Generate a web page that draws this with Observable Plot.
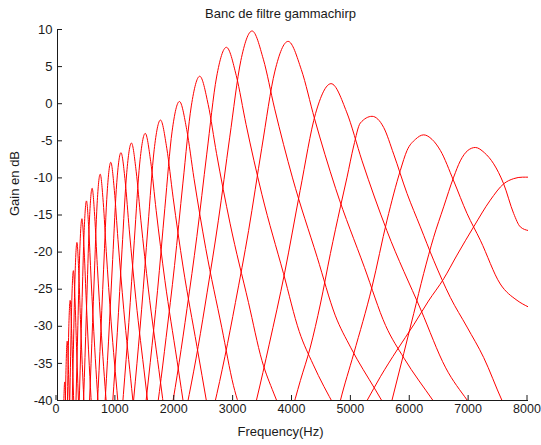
<!DOCTYPE html>
<html>
<head>
<meta charset="utf-8">
<script src="https://cdn.jsdelivr.net/npm/d3@7"></script>
<script src="https://cdn.jsdelivr.net/npm/@observablehq/plot@0.6"></script>
<style>
  html, body { margin: 0; padding: 0; background: #fff; }
</style>
</head>
<body>
<div id="chart"></div>
<script>
const titleText = "Banc de filtre gammachirp";
const xLabel = "Frequency(Hz)";
const yLabel = "Gain en dB";
const xTicks = [0, 1000, 2000, 3000, 4000, 5000, 6000, 7000, 8000];
const yTicks = [10, 5, 0, -5, -10, -15, -20, -25, -30, -35, -40];

// Each filter: [frequency (Hz), gain (dB)] points
const filter01 = [[5150,-41.5],[5258,-40],[5484,-36.8],[5767,-33.2],[6050,-29.8],[6300,-26.6],[6559,-23.6],[6786,-20.4],[7068,-16.6],[7351,-13.0],[7578,-10.8],[7748,-10.1],[7900,-9.9],[8000,-9.9]];
const filter02 = [[5600,-42.5],[5680,-40],[5880,-33.7],[6050,-28.3],[6219,-22.9],[6389,-18.0],[6559,-13.9],[6729,-9.9],[6842,-7.7],[6970,-6.3],[7097,-5.9],[7250,-6.6],[7408,-8.1],[7578,-10.8],[7748,-14.8],[7861,-16.6],[8000,-17.1]];
const filter03 = [[4700,-43.5],[4805,-40],[5031,-33.7],[5342,-24.7],[5597,-15.7],[5823,-9.0],[5937,-6.3],[6080,-4.8],[6220,-4.2],[6360,-4.8],[6503,-6.3],[6729,-10.4],[6956,-14.8],[7182,-18.4],[7521,-24.3],[7805,-26.5],[8000,-27.4]];
const filter04 = [[3950,-42.3],[4126,-37.3],[4295,-32.8],[4465,-27.0],[4635,-20.2],[4805,-13.9],[4918,-9.9],[5031,-5.7],[5144,-2.6],[5343,-1.7],[5540,-3.2],[5710,-6.8],[5937,-12.1],[6163,-16.6],[6389,-21.1],[6672,-26.1],[6956,-30.1],[7238,-34.2],[7550,-40],[7700,-42.5]];
const filter05 = [[3173,-46.3],[3384,-39.8],[3594,-32.5],[3858,-22.8],[4121,-11.7],[4384,-1.3],[4647,2.7],[4910,-1.1],[5173,-7.7],[5594,-17.1],[6173,-27.8],[6594,-35.6],[6963,-40.0],[7542,-45.7]];
const filter06 = [[2574,-43.6],[2664,-40.6],[2843,-34.1],[3022,-26.8],[3246,-17.1],[3469,-6.0],[3693,4.4],[3917,8.4],[4141,4.6],[4365,-2.0],[4723,-11.4],[5215,-22.1],[5573,-29.9],[5886,-34.3],[6378,-40.0],[6692,-43.6]];
const filter07 = [[2161,-42.2],[2237,-39.2],[2390,-32.7],[2542,-25.4],[2733,-15.7],[2924,-4.6],[3114,5.8],[3305,9.8],[3496,6.0],[3686,-0.6],[3992,-10.0],[4411,-20.7],[4716,-28.5],[4983,-32.9],[5403,-38.6],[5670,-42.2]];
const filter08 = [[1866,-44.4],[1933,-41.4],[2066,-34.9],[2200,-27.6],[2367,-17.9],[2535,-6.8],[2702,3.6],[2869,7.6],[3036,3.8],[3203,-2.8],[3471,-12.2],[3839,-22.9],[4106,-30.7],[4340,-35.1],[4708,-40.8]];
const filter09 = [[1617,-45.3],[1731,-38.8],[1845,-31.5],[1988,-21.8],[2130,-10.7],[2273,-0.3],[2416,3.7],[2559,-0.1],[2701,-6.7],[2930,-16.1],[3244,-26.8],[3472,-34.6],[3672,-39.0],[3986,-44.7]];
const filter10 = [[1475,-42.2],[1575,-34.9],[1699,-25.2],[1823,-14.1],[1947,-3.7],[2071,0.3],[2195,-3.5],[2319,-10.1],[2518,-19.5],[2791,-30.2],[2989,-38.0],[3163,-42.4]];
const filter11 = [[1237,-44.7],[1322,-37.4],[1429,-27.7],[1536,-16.6],[1642,-6.2],[1749,-2.2],[1856,-6.0],[1963,-12.6],[2133,-22.0],[2368,-32.7],[2539,-40.5]];
const filter12 = [[1045,-46.5],[1119,-39.2],[1212,-29.5],[1305,-18.4],[1397,-8.0],[1490,-4.0],[1583,-7.8],[1676,-14.4],[1824,-23.8],[2028,-34.5],[2176,-42.3]];
const filter13 = [[871,-47.8],[935,-40.5],[1016,-30.8],[1096,-19.7],[1176,-9.3],[1256,-5.3],[1336,-9.1],[1416,-15.7],[1545,-25.1],[1721,-35.8],[1849,-43.6]];
const filter14 = [[796,-41.8],[866,-32.1],[937,-21.0],[1007,-10.6],[1078,-6.6],[1149,-10.4],[1219,-17.0],[1332,-26.4],[1487,-37.1],[1600,-44.9]];
const filter15 = [[660,-43.1],[721,-33.4],[783,-22.3],[844,-11.9],[905,-7.9],[966,-11.7],[1027,-18.3],[1125,-27.7],[1260,-38.4],[1358,-46.2]];
const filter16 = [[519,-44.7],[570,-35.0],[622,-23.9],[673,-13.5],[725,-9.5],[777,-13.3],[828,-19.9],[910,-29.3],[1024,-40.0],[1106,-47.8]];
const filter17 = [[412,-46.6],[456,-36.9],[500,-25.8],[544,-15.4],[588,-11.4],[632,-15.2],[676,-21.8],[747,-31.2],[844,-41.9]];
const filter18 = [[336,-48.3],[375,-38.6],[414,-27.5],[453,-17.1],[492,-13.1],[531,-16.9],[570,-23.5],[632,-32.9],[718,-43.6]];
const filter19 = [[276,-50.7],[311,-41.0],[346,-29.9],[380,-19.5],[415,-15.5],[450,-19.3],[485,-25.9],[540,-35.3],[617,-46.0]];
const filter20 = [[240,-44.2],[270,-33.1],[300,-22.7],[330,-18.7],[360,-22.5],[390,-29.1],[439,-38.5],[505,-49.2]];
const filter21 = [[189,-48.0],[216,-36.9],[243,-26.5],[270,-22.5],[297,-26.3],[324,-32.9],[367,-42.3]];
const filter22 = [[143,-52.0],[167,-40.9],[191,-30.5],[215,-26.5],[239,-30.3],[263,-36.9],[301,-46.3]];
const filter23 = [[123,-46.4],[144,-36.0],[165,-32.0],[186,-35.8],[208,-42.4]];
const filter24 = [[103,-41.5],[122,-37.5],[141,-41.3]];

const filters = [filter01, filter02, filter03, filter04, filter05, filter06, filter07, filter08,
  filter09, filter10, filter11, filter12, filter13, filter14, filter15, filter16,
  filter17, filter18, filter19, filter20, filter21, filter22, filter23, filter24];

const rows = filters.flatMap((pts, i) => pts.map(([f, g]) => ({f, g, id: i})));

const font = "'Liberation Sans', Arial, Helvetica, sans-serif";

const chart = Plot.plot({
  width: 541,
  height: 445,
  marginLeft: 57,
  marginRight: 13,
  marginTop: 29,
  marginBottom: 45,
  style: {fontFamily: font, fontSize: "13px", color: "#1a1a1a", background: "#fff"},
  x: {domain: [0, 8000]},
  y: {domain: [-40, 10]},
  marks: [
    Plot.line(rows, {x: "f", y: "g", z: "id", stroke: "red", strokeWidth: 1, curve: "monotone-x", clip: true}),
    Plot.ruleX([0], {stroke: "#1a1a1a"}),
    Plot.ruleY([-40], {stroke: "#1a1a1a"}),
    Plot.axisX({ticks: xTicks, tickSize: -5, tickPadding: 9, tickFormat: d => String(d), label: null, fontSize: 12.5, dx: -1.5}),
    Plot.axisY({ticks: yTicks, tickSize: -5, tickPadding: 10, tickFormat: d => String(d), label: null, fontSize: 13}),
    Plot.text([titleText], {frameAnchor: "top", lineAnchor: "middle", dy: -16, dx: -12.5, fontSize: 13, fill: "#1a1a1a"}),
    Plot.text([xLabel], {frameAnchor: "bottom", lineAnchor: "middle", dy: 31, dx: -12.5, fontSize: 13, fill: "#1a1a1a"}),
    Plot.text([yLabel], {frameAnchor: "left", dx: -43, dy: 1, rotate: -90, fontSize: 13, fill: "#1a1a1a"})
  ]
});
document.getElementById("chart").appendChild(chart);
</script>
</body>
</html>
